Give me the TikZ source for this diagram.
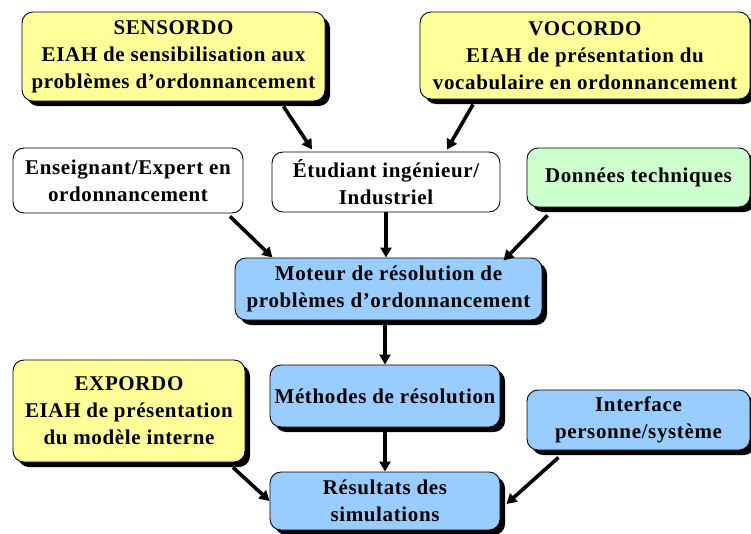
\documentclass[tikz,border=0pt]{standalone}
\usepackage{fontspec}
\setmainfont{Liberation Serif}[LetterSpace=3]
\usepackage{tikz}
\usetikzlibrary{arrows.meta,shadows}

\definecolor{jaune}{RGB}{255,255,153}
\definecolor{vert}{RGB}{204,255,204}
\definecolor{bleu}{RGB}{153,204,255}

\tikzset{
  boite/.style={draw=black,line width=0.9pt,rounded corners=11pt,align=center,
    inner sep=0pt,font=\bfseries\fontsize{21}{27}\selectfont},
  ombre/.style={drop shadow={shadow xshift=5pt,shadow yshift=-5pt,fill=black,opacity=1}},
  fleche/.style={line width=3.6pt,-{Triangle[length=10pt,width=11pt]}}
}

\begin{document}
\begin{tikzpicture}[x=1pt,y=-1pt,line join=round]
\useasboundingbox (0,0) rectangle (751,533);

%---------------------------
% EIAH du haut
%---------------------------
\node[boite,ombre,fill=jaune,minimum width=303pt,minimum height=89pt] (sensordo) at (173.5,56.5)
  {SENSORDO\\EIAH de sensibilisation aux\\problèmes d’ordonnancement};
\node[boite,ombre,fill=jaune,minimum width=330pt,minimum height=87pt] (vocordo) at (585,55.5)
  {VOCORDO\\EIAH de présentation du\\vocabulaire en ordonnancement};

%---------------------------
% acteurs et données
%---------------------------
\node[boite,fill=white,minimum width=230pt,minimum height=65pt] (enseignant) at (128,180.5)
  {Enseignant/Expert en\\ordonnancement};
\node[boite,fill=white,minimum width=228pt,minimum height=60pt] (etudiant) at (386,182)
  {Étudiant ingénieur/\\Industriel};
\node[boite,ombre,fill=vert,minimum width=223pt,minimum height=59pt] (donnees) at (638.5,177.5)
  {Données techniques};

%---------------------------
% moteur et résultats
%---------------------------
\node[boite,ombre,fill=bleu,minimum width=307pt,minimum height=62pt] (moteur) at (388.5,289)
  {Moteur de résolution de\\problèmes d’ordonnancement};
\node[boite,ombre,fill=bleu,minimum width=230pt,minimum height=62pt] (methodes) at (385,396)
  {Méthodes de résolution};
\node[boite,ombre,fill=bleu,minimum width=230pt,minimum height=58pt] (resultats) at (385,501)
  {Résultats des\\simulations};
\node[boite,ombre,fill=jaune,minimum width=232pt,minimum height=102pt] (expordo) at (129,411)
  {EXPORDO\\EIAH de présentation\\du modèle interne};
\node[boite,ombre,fill=bleu,minimum width=223pt,minimum height=60pt] (interface) at (638.5,420)
  {Interface\\personne/système};

%---------------------------
% flèches
%---------------------------
\draw[fleche] ([xshift=110pt,yshift=-5pt]sensordo.south) -- ([xshift=-74pt,yshift=2pt]etudiant.north);
\draw[fleche] ([xshift=-112pt,yshift=-5pt]vocordo.south) -- ([xshift=61pt,yshift=2pt]etudiant.north);
\draw[fleche] ([xshift=102pt,yshift=-3pt]enseignant.south) -- ([xshift=-116pt]moteur.north);
\draw[fleche] (etudiant.south) -- (etudiant.south |- moteur.north);
\draw[fleche] ([xshift=-91pt,yshift=-8pt]donnees.south) -- ([xshift=115pt,yshift=-3pt]moteur.north);
\draw[fleche] ([yshift=-5pt]moteur.south -| methodes.north) -- (methodes.north);
\draw[fleche] ([yshift=-5pt]methodes.south) -- (resultats.north);
\draw[fleche] ([xshift=104pt,yshift=-5pt]expordo.south) -- (resultats.west);
\draw[fleche] ([xshift=-80pt,yshift=-7pt]interface.south) -- ([xshift=6pt,yshift=-3pt]resultats.east);

\end{tikzpicture}
\end{document}
